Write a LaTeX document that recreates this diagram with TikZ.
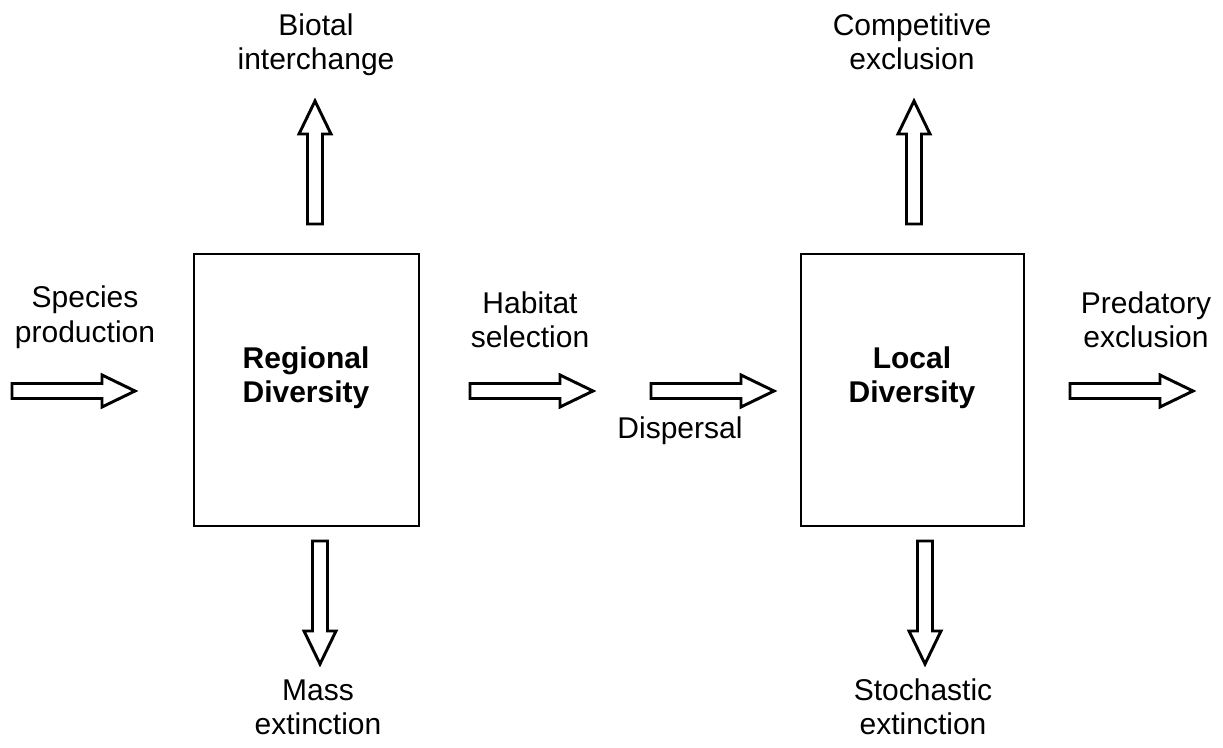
\documentclass[tikz,border=0pt]{standalone}
\usepackage{fontspec}
\setmainfont{Liberation Sans}
\begin{document}
\begin{tikzpicture}[x=0.75pt,y=-0.75pt,
  lbl/.style={font=\fontsize{22.5pt}{25.5pt}\selectfont, align=center, inner sep=0pt, anchor=base},
  boxlbl/.style={lbl, font=\fontsize{22.5pt}{25.5pt}\selectfont\bfseries},
  panel/.style={draw, line width=2.2pt},
  arrowline/.style={draw, line width=2.2pt, line join=miter},
  barrow/.pic={\path[arrowline] (0,-7.5) -- (90,-7.5) -- (90,-16) -- (123,0) -- (90,16) -- (90,7.5) -- (0,7.5) -- cycle;}]
\useasboundingbox (0,0) rectangle (1223,748);

% the two diversity pools
\draw[panel] (194,254) rectangle (419,526);
\draw[panel] (801,254) rectangle (1024,526);
\node[boxlbl] (regional) at (306,402) {Regional\\Diversity};
\node[boxlbl] (local) at (912,402) {Local\\Diversity};

% horizontal flows
\pic at (12,391) {barrow};
\pic at (470,391) {barrow};
\pic at (651,391) {barrow};
\pic at (1070,391) {barrow};

% vertical flows
\pic[rotate=90] at (315,224) {barrow};
\pic[rotate=90] at (914,224) {barrow};
\pic[rotate=-90] at (320,541) {barrow};
\pic[rotate=-90] at (925,541) {barrow};

% process labels
\node[lbl] (biotal) at (316,70) {Biotal\\interchange};
\node[lbl] (compet) at (912,70) {Competitive\\exclusion};
\node[lbl] (species) at (85,342) {Species\\production};
\node[lbl] (habitat) at (530,348) {Habitat\\selection};
\node[lbl] (predat) at (1146,348) {Predatory\\exclusion};
\node[lbl] (dispers) at (680,438) {Dispersal};
\node[lbl] (mass) at (318,734) {Mass\\extinction};
\node[lbl] (stoch) at (923,734) {Stochastic\\extinction};
\end{tikzpicture}
\end{document}
